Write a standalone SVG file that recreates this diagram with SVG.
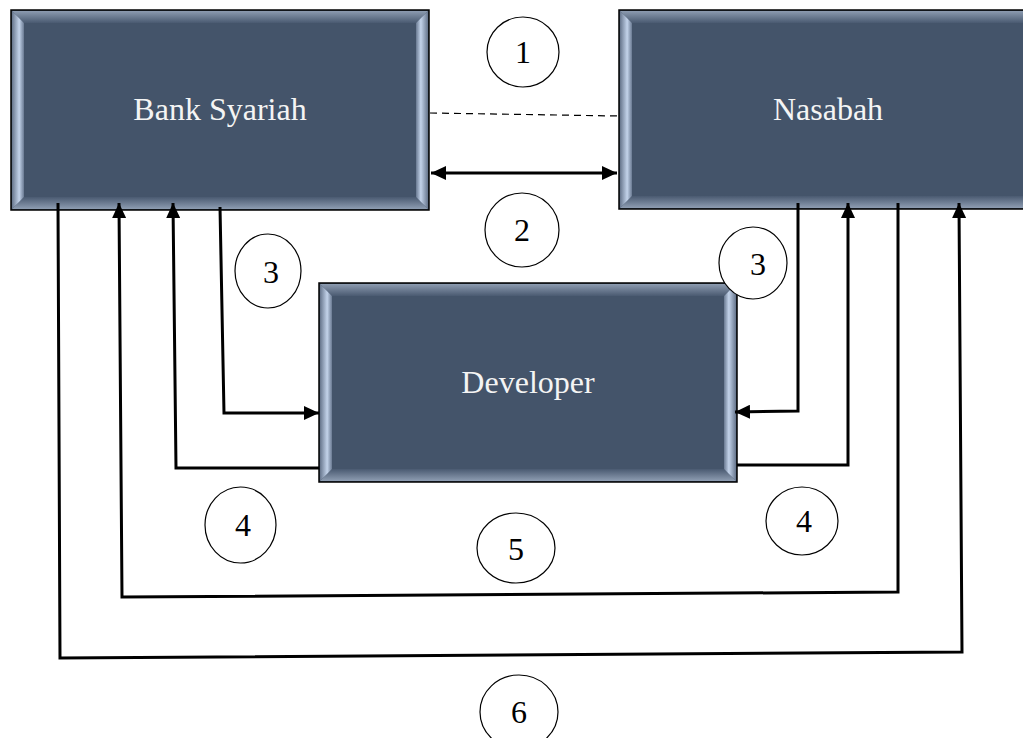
<svg xmlns="http://www.w3.org/2000/svg" width="1023" height="738" viewBox="0 0 1023 738">
<defs>
<linearGradient id="gl" x1="0" y1="0" x2="1" y2="0">
<stop offset="0" stop-color="#66758c"/><stop offset="0.6" stop-color="#c3d3ea"/><stop offset="1" stop-color="#6a7a92"/>
</linearGradient>
<linearGradient id="gr" x1="1" y1="0" x2="0" y2="0">
<stop offset="0" stop-color="#66758c"/><stop offset="0.6" stop-color="#c3d3ea"/><stop offset="1" stop-color="#6a7a92"/>
</linearGradient>
<linearGradient id="gt" x1="0" y1="0" x2="0" y2="1">
<stop offset="0" stop-color="#8c9bb0"/><stop offset="1" stop-color="#4a5a71"/>
</linearGradient>
<linearGradient id="gb" x1="0" y1="1" x2="0" y2="0">
<stop offset="0" stop-color="#8e9db2"/><stop offset="1" stop-color="#4a5a71"/>
</linearGradient>
<marker id="ah" markerUnits="userSpaceOnUse" markerWidth="16" markerHeight="14" refX="15" refY="7" orient="auto-start-reverse" viewBox="0 0 16 14">
<path d="M0,0 L15,7 L0,14 z" fill="#000"/>
</marker>
</defs>
<style>
.box{fill:#44546a;stroke:#000;stroke-width:1.5}
.lbl{font-family:"Liberation Serif","Times New Roman",serif;font-size:32px;fill:#f4f4f4;text-anchor:middle}
.num{font-family:"Liberation Serif","Times New Roman",serif;font-size:32px;fill:#000;text-anchor:middle}
.cir{fill:#fff;stroke:#000;stroke-width:1.2}
.con{fill:none;stroke:#000;stroke-width:3}
</style>
<rect width="1023" height="738" fill="#fff"/>

<g id="bank">
<rect class="box" x="11" y="10" width="418" height="200"/>
<polygon points="12,11 428,11 416,23 24,23" fill="url(#gt)"/>
<polygon points="12,209 428,209 416,197 24,197" fill="url(#gb)"/>
<polygon points="12,11 24,23 24,197 12,209" fill="url(#gl)"/>
<polygon points="428,11 416,23 416,197 428,209" fill="url(#gr)"/>
<rect x="24" y="23" width="392" height="174" fill="#44546a"/>
<text class="lbl" x="220" y="120">Bank Syariah</text>
</g>

<g id="nasabah">
<rect class="box" x="619" y="10" width="418" height="199"/>
<polygon points="620,11 1036,11 1024,23 632,23" fill="url(#gt)"/>
<polygon points="620,208 1036,208 1024,196 632,196" fill="url(#gb)"/>
<polygon points="620,11 632,23 632,196 620,208" fill="url(#gl)"/>
<polygon points="1036,11 1024,23 1024,196 1036,208" fill="url(#gr)"/>
<rect x="632" y="23" width="392" height="173" fill="#44546a"/>
<text class="lbl" x="828" y="120">Nasabah</text>
</g>

<g id="developer">
<rect class="box" x="319" y="283" width="418" height="199"/>
<polygon points="320,284 736,284 724,296 332,296" fill="url(#gt)"/>
<polygon points="320,481 736,481 724,469 332,469" fill="url(#gb)"/>
<polygon points="320,284 332,296 332,469 320,481" fill="url(#gl)"/>
<polygon points="736,284 724,296 724,469 736,481" fill="url(#gr)"/>
<rect x="332" y="296" width="392" height="173" fill="#44546a"/>
<text class="lbl" x="528" y="393">Developer</text>
</g>

<g id="connectors">
<path d="M430 113 L619 116" fill="none" stroke="#000" stroke-width="1.2" stroke-dasharray="7 5"/>
<path class="con" d="M431 173 L617 173" marker-start="url(#ah)" marker-end="url(#ah)"/>
<path class="con" d="M220 207 L224 413 L319 413" marker-end="url(#ah)"/>
<path class="con" d="M798 203 L798 411 L735 412" marker-end="url(#ah)"/>
<path class="con" d="M737 465 L848 465 L848 203" marker-end="url(#ah)"/>
<path class="con" d="M319 468 L176 468 L173 203" marker-end="url(#ah)"/>
<path class="con" d="M898 203 L898 592 L122 597 L119 203" marker-end="url(#ah)"/>
<path class="con" d="M58 203 L60 658 L962 652 L959 203" marker-end="url(#ah)"/>
</g>

<g id="label1"><ellipse class="cir" cx="523" cy="52" rx="36" ry="35"/><text class="num" x="523" y="63">1</text></g>
<g id="label2"><ellipse class="cir" cx="522" cy="230" rx="37" ry="37"/><text class="num" x="522" y="241">2</text></g>
<g id="label3a"><ellipse class="cir" cx="268" cy="271" rx="33" ry="37"/><text class="num" x="271" y="283">3</text></g>
<g id="label3b"><ellipse class="cir" cx="753" cy="263" rx="34" ry="36"/><text class="num" x="758" y="275">3</text></g>
<g id="label4a"><ellipse class="cir" cx="240.5" cy="525" rx="35.5" ry="38"/><text class="num" x="243" y="536">4</text></g>
<g id="label5"><ellipse class="cir" cx="516" cy="548" rx="39" ry="35"/><text class="num" x="516" y="560">5</text></g>
<g id="label4b"><ellipse class="cir" cx="802" cy="521" rx="36" ry="34"/><text class="num" x="804" y="532">4</text></g>
<g id="label6"><ellipse class="cir" cx="519" cy="712" rx="39" ry="37"/><text class="num" x="519" y="723">6</text></g>
</svg>
